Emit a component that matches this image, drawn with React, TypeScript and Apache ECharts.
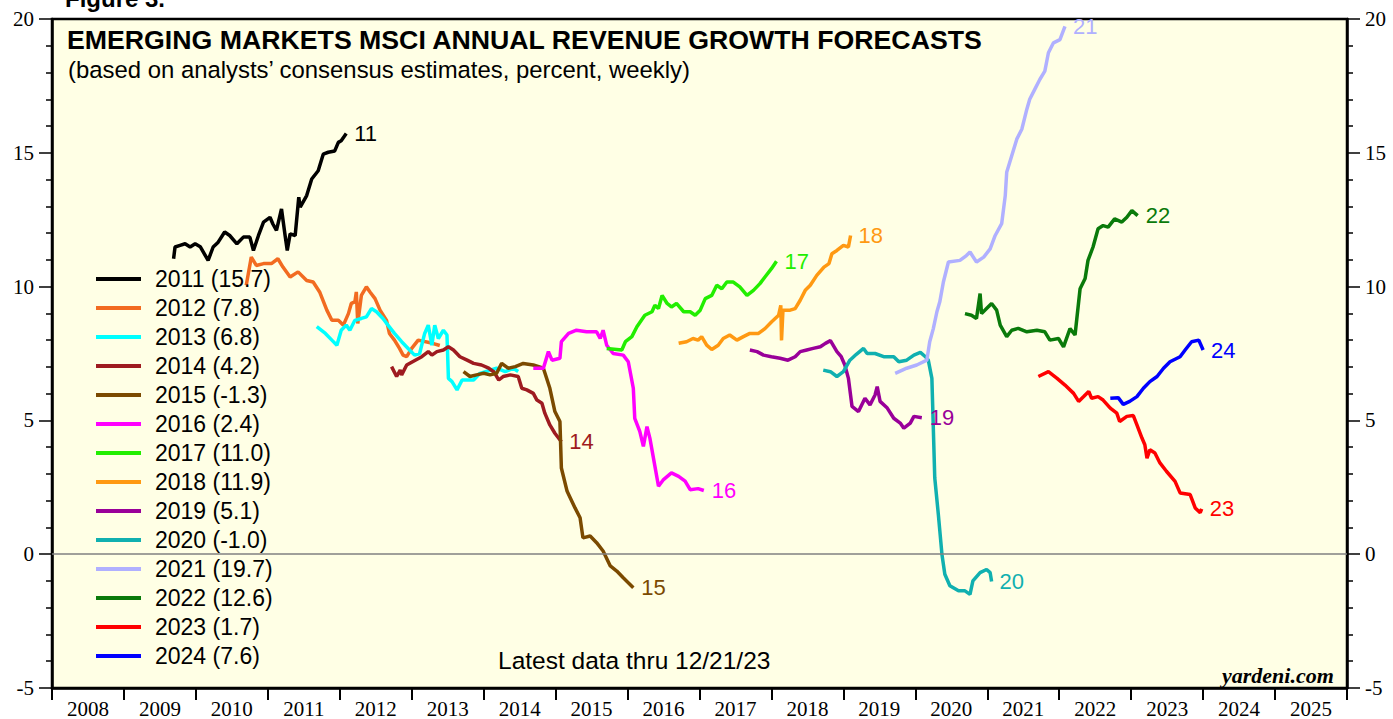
import React, { useEffect, useRef } from 'react';
import * as echarts from 'echarts';

const yearLabels = ['2008','2009','2010','2011','2012','2013','2014','2015','2016','2017','2018','2019','2020','2021','2022','2023','2024','2025'];
const seriesNames = ['2011','2012','2013','2014','2015','2016','2017','2018','2019','2020','2021','2022','2023','2024'];
const finalValues = ['15.7','7.8','6.8','4.2','-1.3','2.4','11.0','11.9','5.1','-1.0','19.7','12.6','1.7','7.6'];
const endTags = ['11','','','14','15','16','17','18','19','20','21','22','23','24'];

const d2011 = [[2009.69,11.04],[2009.71,11.48],[2009.78,11.54],[2009.85,11.60],[2009.92,11.48],[2009.99,11.60],[2010.06,11.49],[2010.17,10.98],[2010.24,11.48],[2010.31,11.66],[2010.40,12.04],[2010.47,11.91],[2010.57,11.60],[2010.66,11.85],[2010.75,11.85],[2010.80,11.35],[2010.87,11.91],[2010.94,12.41],[2011.03,12.59],[2011.07,12.34],[2011.12,12.10],[2011.19,12.90],[2011.24,11.91],[2011.27,11.35],[2011.31,11.97],[2011.38,11.91],[2011.43,13.34],[2011.45,12.97],[2011.54,13.40],[2011.61,14.02],[2011.70,14.33],[2011.77,14.95],[2011.84,15.02],[2011.93,15.07],[2011.98,15.39],[2012.02,15.45],[2012.09,15.72]];
const d2012 = [[2010.70,10.05],[2010.77,11.10],[2010.84,10.79],[2010.94,10.86],[2011.05,10.86],[2011.14,11.04],[2011.21,10.73],[2011.31,10.36],[2011.42,10.55],[2011.54,10.23],[2011.63,10.17],[2011.72,9.80],[2011.82,9.12],[2011.89,8.74],[2011.98,8.74],[2012.05,8.56],[2012.12,8.99],[2012.16,9.37],[2012.21,9.43],[2012.23,9.80],[2012.25,8.62],[2012.30,9.67],[2012.37,9.99],[2012.42,9.80],[2012.49,9.55],[2012.56,9.12],[2012.65,8.74],[2012.69,8.25],[2012.76,8.00],[2012.83,7.69],[2012.88,7.44],[2012.93,7.38],[2013.00,7.69],[2013.09,8.00],[2013.29,7.88],[2013.39,7.80]];
const d2013 = [[2011.68,8.50],[2011.80,8.25],[2011.89,8.00],[2011.96,7.81],[2012.02,8.37],[2012.09,8.56],[2012.14,8.37],[2012.21,8.74],[2012.30,8.81],[2012.37,8.87],[2012.44,9.18],[2012.51,9.06],[2012.60,8.81],[2012.67,8.56],[2012.76,8.25],[2012.86,7.94],[2012.95,7.69],[2013.04,7.44],[2013.11,7.50],[2013.18,8.25],[2013.23,8.56],[2013.28,7.81],[2013.32,8.56],[2013.37,8.06],[2013.44,8.37],[2013.49,8.19],[2013.51,6.57],[2013.56,6.45],[2013.63,6.14],[2013.70,6.51],[2013.77,6.51],[2013.86,6.51],[2013.95,6.76],[2014.18,6.95],[2014.30,6.82],[2014.41,6.95],[2014.48,6.83]];
const d2014 = [[2012.72,7.01],[2012.79,6.64],[2012.84,6.88],[2012.86,6.70],[2012.93,7.07],[2013.05,7.25],[2013.14,7.38],[2013.23,7.57],[2013.28,7.44],[2013.35,7.57],[2013.44,7.63],[2013.51,7.75],[2013.58,7.63],[2013.67,7.38],[2013.77,7.25],[2013.86,7.13],[2013.97,7.07],[2014.07,6.95],[2014.14,6.82],[2014.21,6.51],[2014.27,6.64],[2014.37,6.70],[2014.48,6.64],[2014.53,6.20],[2014.60,6.14],[2014.69,6.01],[2014.74,5.76],[2014.81,5.64],[2014.85,5.27],[2014.92,4.83],[2014.99,4.52],[2015.08,4.20]];
const d2015 = [[2013.72,6.82],[2013.81,6.64],[2013.90,6.70],[2014.00,6.76],[2014.09,6.70],[2014.18,6.76],[2014.25,7.13],[2014.34,6.95],[2014.44,7.01],[2014.55,7.13],[2014.69,7.07],[2014.83,6.95],[2014.92,6.20],[2014.99,5.33],[2015.06,4.96],[2015.08,3.22],[2015.16,2.35],[2015.27,1.73],[2015.34,1.36],[2015.38,0.61],[2015.48,0.68],[2015.57,0.43],[2015.66,0.12],[2015.76,-0.44],[2015.85,-0.63],[2015.94,-0.88],[2016.08,-1.25]];
const d2016 = [[2014.69,6.95],[2014.83,6.95],[2014.90,7.57],[2014.95,7.25],[2015.06,7.32],[2015.08,7.94],[2015.18,8.25],[2015.29,8.37],[2015.43,8.31],[2015.57,8.31],[2015.62,8.06],[2015.66,8.37],[2015.71,7.81],[2015.80,7.50],[2015.94,7.44],[2016.01,7.19],[2016.08,6.20],[2016.10,5.08],[2016.17,4.59],[2016.22,4.03],[2016.27,4.77],[2016.31,4.34],[2016.36,3.59],[2016.43,2.54],[2016.50,2.79],[2016.61,3.04],[2016.71,2.91],[2016.80,2.73],[2016.87,2.41],[2016.98,2.45],[2017.06,2.38]];
const d2017 = [[2015.71,7.69],[2015.92,7.63],[2015.97,7.94],[2016.06,8.13],[2016.13,8.50],[2016.24,8.93],[2016.34,9.06],[2016.38,9.30],[2016.43,9.18],[2016.48,9.67],[2016.55,9.37],[2016.61,9.24],[2016.68,9.37],[2016.78,9.06],[2016.87,9.06],[2016.94,8.93],[2017.01,9.12],[2017.08,9.55],[2017.17,9.67],[2017.24,10.05],[2017.31,9.92],[2017.38,10.17],[2017.47,10.17],[2017.56,9.99],[2017.66,9.67],[2017.75,9.86],[2017.84,10.11],[2017.91,10.36],[2018.00,10.67],[2018.07,10.95]];
const d2018 = [[2016.71,7.88],[2016.82,7.94],[2016.91,8.06],[2016.98,8.00],[2017.03,8.13],[2017.10,7.81],[2017.17,7.65],[2017.26,7.81],[2017.33,8.06],[2017.42,8.19],[2017.52,8.00],[2017.61,8.13],[2017.70,8.25],[2017.82,8.25],[2017.91,8.43],[2018.00,8.68],[2018.10,8.93],[2018.13,9.30],[2018.14,7.99],[2018.16,9.12],[2018.26,9.12],[2018.33,9.18],[2018.40,9.49],[2018.47,9.86],[2018.54,10.05],[2018.63,10.42],[2018.73,10.73],[2018.80,10.86],[2018.84,11.23],[2018.91,11.35],[2019.00,11.54],[2019.07,11.48],[2019.10,11.91]];
const d2019 = [[2017.70,7.63],[2017.80,7.57],[2017.89,7.44],[2018.00,7.38],[2018.12,7.32],[2018.23,7.25],[2018.33,7.38],[2018.40,7.57],[2018.49,7.63],[2018.58,7.69],[2018.68,7.75],[2018.75,7.88],[2018.82,7.98],[2018.91,7.57],[2018.97,7.38],[2019.02,7.07],[2019.07,6.57],[2019.12,5.52],[2019.21,5.33],[2019.30,5.83],[2019.37,5.58],[2019.44,5.95],[2019.47,6.26],[2019.51,5.71],[2019.61,5.46],[2019.70,5.08],[2019.79,4.90],[2019.84,4.71],[2019.93,4.90],[2019.98,5.15],[2020.09,5.10]];
const d2020 = [[2018.72,6.88],[2018.82,6.82],[2018.91,6.64],[2019.00,6.82],[2019.09,7.25],[2019.18,7.47],[2019.28,7.69],[2019.33,7.50],[2019.44,7.50],[2019.56,7.38],[2019.70,7.38],[2019.77,7.19],[2019.88,7.25],[2019.98,7.44],[2020.07,7.54],[2020.14,7.38],[2020.18,7.25],[2020.23,6.57],[2020.25,4.71],[2020.27,2.85],[2020.32,1.48],[2020.37,-0.01],[2020.41,-0.75],[2020.48,-1.18],[2020.60,-1.37],[2020.69,-1.37],[2020.76,-1.50],[2020.80,-1.00],[2020.90,-0.69],[2020.99,-0.57],[2021.04,-0.69],[2021.06,-1.02]];
const d2021 = [[2019.72,6.76],[2019.88,6.95],[2020.02,7.07],[2020.16,7.25],[2020.20,7.94],[2020.25,8.43],[2020.30,9.06],[2020.34,9.43],[2020.39,10.17],[2020.46,10.92],[2020.62,10.98],[2020.71,11.16],[2020.76,11.29],[2020.85,10.92],[2020.95,11.10],[2021.04,11.41],[2021.11,11.91],[2021.20,12.35],[2021.25,13.40],[2021.27,14.27],[2021.34,14.89],[2021.41,15.51],[2021.48,15.88],[2021.55,16.63],[2021.59,17.00],[2021.66,17.37],[2021.73,17.74],[2021.80,18.05],[2021.85,18.74],[2021.92,19.11],[2022.01,19.23],[2022.08,19.72]];
const d2022 = [[2020.69,8.99],[2020.78,8.93],[2020.85,8.81],[2020.90,9.74],[2020.92,8.99],[2020.99,9.18],[2021.06,9.37],[2021.13,9.12],[2021.18,8.56],[2021.27,8.13],[2021.34,8.37],[2021.43,8.44],[2021.55,8.31],[2021.69,8.37],[2021.80,8.31],[2021.87,8.00],[2021.99,8.06],[2022.06,7.75],[2022.15,8.43],[2022.22,8.19],[2022.29,9.92],[2022.36,10.30],[2022.40,10.98],[2022.47,11.48],[2022.54,12.16],[2022.61,12.28],[2022.68,12.22],[2022.77,12.53],[2022.87,12.41],[2022.94,12.59],[2023.01,12.84],[2023.09,12.65]];
const d2023 = [[2021.71,6.64],[2021.85,6.82],[2021.97,6.57],[2022.08,6.32],[2022.20,6.01],[2022.27,5.71],[2022.34,5.89],[2022.41,6.08],[2022.45,5.83],[2022.54,5.89],[2022.61,5.76],[2022.71,5.46],[2022.80,5.27],[2022.84,4.96],[2022.94,5.15],[2023.03,5.18],[2023.08,4.83],[2023.15,4.34],[2023.19,4.09],[2023.22,3.59],[2023.26,3.90],[2023.33,3.78],[2023.40,3.41],[2023.49,3.10],[2023.61,2.72],[2023.68,2.29],[2023.82,2.23],[2023.89,1.73],[2023.96,1.55],[2023.98,1.69]];
const d2024 = [[2022.71,5.83],[2022.82,5.85],[2022.89,5.60],[2022.98,5.71],[2023.08,5.89],[2023.17,6.20],[2023.26,6.45],[2023.36,6.64],[2023.45,6.95],[2023.54,7.19],[2023.68,7.38],[2023.75,7.63],[2023.84,7.94],[2023.94,8.00],[2024.00,7.63]];

const seriesData = [d2011, d2012, d2013, d2014, d2015, d2016, d2017, d2018, d2019, d2020, d2021, d2022, d2023, d2024];
const colors = ['#000000','#F26B21','#00FFFF','#9E1B20','#7B4A00','#FF00FF','#22EE00','#FF9912','#990099','#10B0B0','#B0B0FF','#0A7A0A','#FF0000','#0000FF'];

const SANS = '"Liberation Sans", Arial, sans-serif';
const SERIF = '"Liberation Serif", "Times New Roman", serif';

export default function App() {
  const ref = useRef<HTMLDivElement>(null);
  useEffect(() => {
    if (!ref.current) return;
    const chart = echarts.init(ref.current, null, { renderer: 'svg' });
    const series: any[] = seriesNames.map((name, i) => {
      const s: any = {
        name,
        type: 'line',
        data: seriesData[i],
        xAxisIndex: 0,
        yAxisIndex: 0,
        symbol: 'none',
        showSymbol: false,
        lineStyle: { width: 3.5, color: colors[i] },
        itemStyle: { color: colors[i] },
        z: 3,
      };
      if (endTags[i]) {
        s.endLabel = {
          show: true,
          formatter: endTags[i],
          color: colors[i],
          fontSize: 22,
          fontFamily: SANS,
          distance: 8,
        };
      }
      if (i === 0) {
        s.markLine = {
          silent: true,
          symbol: ['none', 'none'],
          label: { show: false },
          lineStyle: { color: '#808080', width: 1.5, type: 'solid' },
          data: [{ yAxis: 0 }],
        };
      }
      return s;
    });

    const yAxisBase = (position: string) => ({
      type: 'value',
      min: -5,
      max: 20,
      interval: 5,
      position,
      axisLine: { show: true, onZero: false, lineStyle: { color: '#000', width: 2.5 } },
      axisTick: { show: true, inside: false, length: 13, lineStyle: { color: '#000', width: 1.5 } },
      minorTick: { show: true, splitNumber: 5, length: 6, lineStyle: { color: '#000', width: 1.5 } },
      axisLabel: { margin: 18, fontSize: 21, fontFamily: SERIF, color: '#000' },
      splitLine: { show: false },
    });

    chart.setOption({
      animation: false,
      backgroundColor: '#ffffff',
      grid: {
        left: 52, right: 46, top: 19, bottom: 28,
        show: true, backgroundColor: '#FFFFE5', borderColor: '#000', borderWidth: 2.5,
      },
      xAxis: [
        {
          type: 'value',
          min: 2008,
          max: 2026,
          interval: 1,
          position: 'bottom',
          axisLine: { onZero: false, lineStyle: { color: '#000', width: 2.5 } },
          axisTick: { show: true, inside: false, length: 12, lineStyle: { color: '#000', width: 2 } },
          axisLabel: { show: false },
          splitLine: { show: false },
        },
        {
          type: 'category',
          data: yearLabels,
          position: 'bottom',
          offset: 0,
          boundaryGap: true,
          axisLine: { show: false, onZero: false },
          axisTick: { show: false },
          axisLabel: { interval: 0, margin: 10, fontSize: 21, fontFamily: SERIF, color: '#000' },
          splitLine: { show: false },
        },
      ],
      yAxis: [yAxisBase('left'), yAxisBase('right')],
      legend: {
        data: seriesNames.map((n, i) => ({ name: n, icon: 'rect', itemStyle: { color: colors[i] } })),
        orient: 'vertical',
        left: 91,
        top: 262,
        itemWidth: 45,
        itemHeight: 4,
        itemGap: 5,
        selectedMode: false,
        formatter: (n: string) => `${n} (${finalValues[seriesNames.indexOf(n)]})`,
        textStyle: { fontSize: 23, fontFamily: SANS, color: '#000', padding: [0, 0, 0, 9], lineHeight: 24 },
      },
      graphic: [
        { type: 'text', left: 65, top: -14, style: { text: 'Figure 3.', fontSize: 24, fontWeight: 'bold', fontFamily: SANS, fill: '#000' } },
        { type: 'text', left: 67, top: 26, z: 10, style: { text: 'EMERGING MARKETS MSCI ANNUAL REVENUE GROWTH FORECASTS', fontSize: 26.7, fontWeight: 'bold', fontFamily: SANS, fill: '#000' } },
        { type: 'text', left: 68, top: 57, z: 10, style: { text: '(based on analysts\u2019 consensus estimates, percent, weekly)', fontSize: 23.9, fontFamily: SANS, fill: '#000' } },
        { type: 'text', left: 498, top: 648, z: 10, style: { text: 'Latest data thru 12/21/23', fontSize: 24.5, fontFamily: SANS, fill: '#000' } },
        { type: 'text', left: 1222, top: 664, z: 10, style: { text: 'yardeni.com', fontSize: 22, fontWeight: 'bold', fontStyle: 'italic', fontFamily: SERIF, fill: '#000' } },
      ],
      series,
    });
    return () => chart.dispose();
  }, []);
  return <div ref={ref} style={{ position: 'absolute', left: 0, top: 0, width: 1393, height: 719 }} />;
}
